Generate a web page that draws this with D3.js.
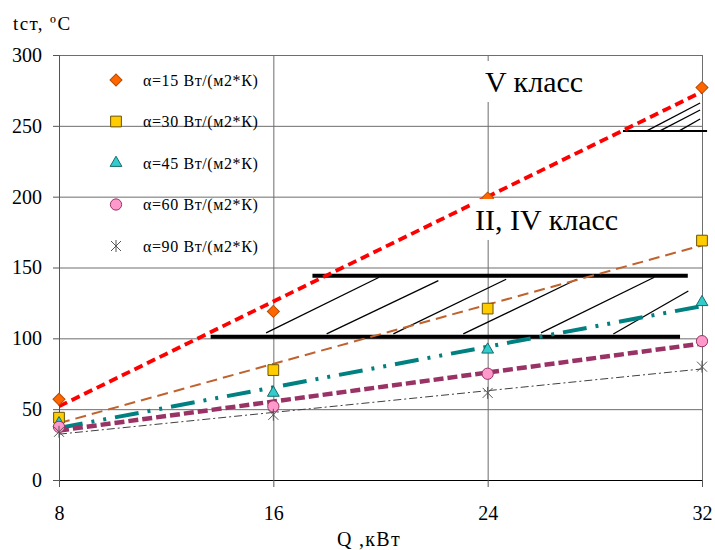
<!DOCTYPE html>
<html>
<head>
<meta charset="utf-8">
<script src="https://cdn.jsdelivr.net/npm/d3@7"></script>
<style>
body { margin: 0; background: #fff; }
svg text { font-family: "Liberation Serif", "DejaVu Serif", serif !important; fill: #000; }
</style>
</head>
<body>
<div id="chart"></div>
<script>
//DATA
const powerQ = [8, 16, 24, 32];
const xTicks = [8, 16, 24, 32];
const yTicks = [0, 50, 100, 150, 200, 250, 300];
const seriesNames = ['α=15 Вт/(м2*К)', 'α=30 Вт/(м2*К)', 'α=45 Вт/(м2*К)', 'α=60 Вт/(м2*К)', 'α=90 Вт/(м2*К)'];
const t15 = [57, 119, 199, 277];
const t30 = [44, 77.6, 121, 169];
const t45 = [40, 61.5, 92, 125.5];
const t60 = [37.5, 52, 75, 98];
const t90 = [34, 46, 61.5, 80];

//CLASS ZONES (Q, t)
const zoneLabels = ['V класс', 'II, IV класс'];
const zoneLabelPos = [[23.9, 273.9], [23.53, 176.5]];
const lowZoneBottom = [[13.66, 101.2], [31.18, 101.2]];
const lowZoneTop = [[17.46, 144.2], [31.47, 144.2]];
const lowZoneHatch = [
    [15.73, 103.8, 19.95, 143.1],
    [17.99, 103.1, 22.16, 140.7],
    [20.48, 103.1, 24.69, 141.7],
    [23.09, 103.1, 27.33, 141.7],
    [25.99, 103.8, 30.22, 143.1],
    [28.69, 103.1, 31.49, 133.4]
];
const highZoneBottom = [[29.05, 246.4], [32.19, 246.4]];
const highZoneHatch = [
    [29.94, 246.4, 31.93, 266.1],
    [30.43, 246.4, 31.93, 261.2],
    [31.15, 246.4, 31.93, 254.8]
];

//STYLES
const styles = [
    { line: '#ff0000', width: 3.8, dash: '9,5', fill: '#ff6600', stroke: '#b84a00', shape: 'diamond' },
    { line: '#c0622d', width: 2, dash: '11,6', fill: '#ffcc00', stroke: '#6b5200', shape: 'square' },
    { line: '#008080', width: 4, dash: '24,9,3,9,3,9', fill: '#33cccc', stroke: '#156b6b', shape: 'triangle' },
    { line: '#993366', width: 4.5, dash: '10,4', fill: '#ff99cc', stroke: '#993366', shape: 'circle' },
    { line: '#404040', width: 1, dash: '8,3,2,3', fill: 'none', stroke: '#555', shape: 'star' }
];
const series = [t15, t30, t45, t60, t90];
const serif = '"Liberation Serif", "DejaVu Serif", serif';

const margin = { top: 55, right: 13, bottom: 70, left: 59 };
const W = 715, H = 550;
const width = W - margin.left - margin.right;
const height = H - margin.top - margin.bottom;

const x = d3.scaleLinear().domain([8, 32]).range([margin.left, margin.left + width]);
const y = d3.scaleLinear().domain([0, 300]).range([margin.top + height, margin.top]);

const svg = d3.select('#chart').append('svg').attr('width', W).attr('height', H)
    .style('font-family', serif);

//GRID
svg.append('g').attr('transform', 'translate(' + margin.left + ',0)')
    .call(d3.axisLeft(y).tickValues(yTicks.slice(1)).tickSize(-width).tickFormat(''))
    .call(g => g.select('.domain').remove())
    .selectAll('line').attr('stroke', '#6e6e6e');
svg.append('g').attr('transform', 'translate(0,' + (margin.top + height) + ')')
    .call(d3.axisBottom(x).tickValues(xTicks.slice(1)).tickSize(-height).tickFormat(''))
    .call(g => g.select('.domain').remove())
    .selectAll('line').attr('stroke', '#6e6e6e');

//AXES
const yAxis = svg.append('g').attr('transform', 'translate(' + margin.left + ',0)')
    .call(d3.axisLeft(y).tickValues(yTicks).tickSize(6).tickPadding(11))
    .attr('font-family', serif);
yAxis.select('.domain').attr('stroke', '#555');
yAxis.selectAll('line').attr('stroke', '#555');
yAxis.selectAll('text').style('font-size', '20px').style('font-family', serif);

const xAxis = svg.append('g').attr('transform', 'translate(0,' + (margin.top + height) + ')')
    .call(d3.axisBottom(x).tickValues(xTicks).tickSize(7).tickPadding(19))
    .attr('font-family', serif);
xAxis.select('.domain').attr('stroke', '#000');
xAxis.selectAll('line').attr('stroke', '#555');
xAxis.selectAll('text').style('font-size', '20px').style('font-family', serif);

svg.append('text').attr('x', 13).attr('y', 30)
    .style('font-size', '19px').style('letter-spacing', '1.4px').style('font-family', serif)
    .text('tст, ºC');
svg.append('text').attr('x', 337).attr('y', 546)
    .style('font-size', '20px').style('letter-spacing', '1.3px').style('font-family', serif)
    .text('Q ,кВт');

//ZONES
const zone = svg.append('g');
const hline = d3.line().x(d => x(d[0])).y(d => y(d[1]));
zone.append('path').attr('d', hline(lowZoneBottom)).attr('stroke', '#000').attr('stroke-width', 4).attr('fill', 'none');
zone.append('path').attr('d', hline(lowZoneTop)).attr('stroke', '#000').attr('stroke-width', 4).attr('fill', 'none');
zone.append('path').attr('d', hline(highZoneBottom)).attr('stroke', '#000').attr('stroke-width', 2).attr('fill', 'none');
zone.selectAll('.hatch').data(lowZoneHatch.concat(highZoneHatch)).enter().append('line')
    .attr('class', 'hatch')
    .attr('x1', d => x(d[0])).attr('y1', d => y(d[1]))
    .attr('x2', d => x(d[2])).attr('y2', d => y(d[3]))
    .attr('stroke', '#000').attr('stroke-width', 1.3);

//TREND LINES (least squares, like the spreadsheet trendline)
function trend(vals) {
    const mx = d3.mean(powerQ), my = d3.mean(vals);
    const sxy = d3.sum(powerQ, (q, i) => (q - mx) * (vals[i] - my));
    const sxx = d3.sum(powerQ, q => (q - mx) * (q - mx));
    const k = sxy / sxx;
    return [[8, my + k * (8 - mx)], [32, my + k * (32 - mx)]];
}
series.forEach((vals, i) => {
    const s = styles[i];
    svg.append('path').attr('d', hline(trend(vals)))
        .attr('fill', 'none').attr('stroke', s.line)
        .attr('stroke-width', s.width).attr('stroke-dasharray', s.dash);
});

//MARKERS
function marker(sel, shape) {
    if (shape == 'diamond') sel.append('path').attr('d', d3.symbol(d3.symbolSquare, 72)()).attr('transform', 'rotate(45)');
    else if (shape == 'square') sel.append('path').attr('d', d3.symbol(d3.symbolSquare, 115)());
    else if (shape == 'triangle') sel.append('path').attr('d', d3.symbol(d3.symbolTriangle, 60)());
    else if (shape == 'circle') sel.append('path').attr('d', d3.symbol(d3.symbolCircle, 100)());
    else sel.append('path').attr('d', 'M-5,-5L5,5M-5,5L5,-5M0,-6L0,6');
}
series.forEach((vals, i) => {
    const s = styles[i];
    powerQ.forEach((q, j) => {
        const g = svg.append('g').attr('transform', 'translate(' + x(q) + ',' + y(vals[j]) + ')');
        marker(g, s.shape);
        g.selectAll('path').attr('fill', s.fill).attr('stroke', s.stroke).attr('stroke-width', 1);
    });
});

//ZONE LABELS
zoneLabels.forEach((lbl, i) => {
    const g = svg.append('g');
    const t = g.append('text').attr('x', x(zoneLabelPos[i][0])).attr('y', y(zoneLabelPos[i][1]))
        .style('font-size', '30px').style('font-family', serif).text(lbl);
    const b = t.node().getBBox();
    g.insert('rect', 'text').attr('x', b.x - 4).attr('y', b.y - 4)
        .attr('width', b.width + 8).attr('height', b.height + 8).attr('fill', '#fff');
});

//LEGEND
const legend = svg.append('g');
seriesNames.forEach((name, i) => {
    const s = styles[i];
    const ly = 80 + i * 41.5;
    const g = legend.append('g').attr('transform', 'translate(116,' + ly + ')');
    marker(g, s.shape);
    g.selectAll('path').attr('fill', s.fill).attr('stroke', s.stroke).attr('stroke-width', 1);
    legend.append('text').attr('x', 143).attr('y', ly).attr('dy', '0.35em')
        .style('font-size', '16px').style('letter-spacing', '0.6px').style('font-family', serif).text(name);
});
</script>
</body>
</html>
